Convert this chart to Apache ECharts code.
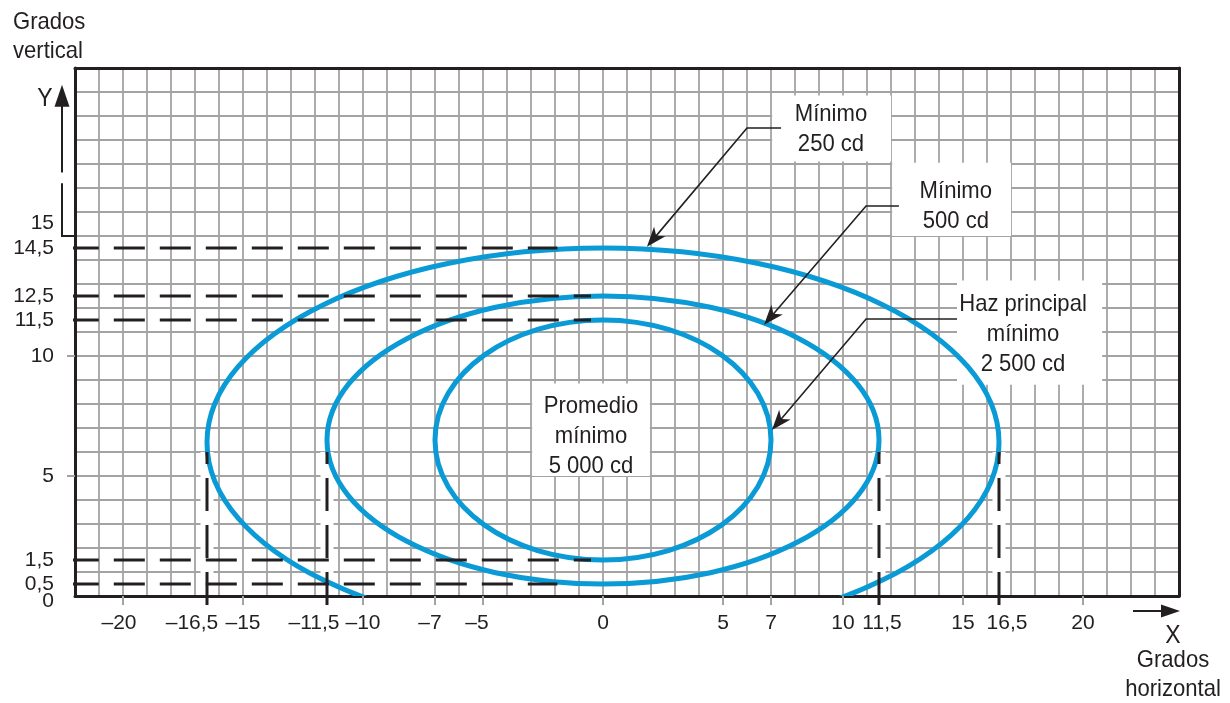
<!DOCTYPE html>
<html><head><meta charset="utf-8">
<script src="https://cdn.jsdelivr.net/npm/echarts@6/dist/echarts.min.js"></script>
<style>html,body{margin:0;padding:0;background:#fff}#main{width:1230px;height:703px}</style>
</head><body><div id="main"></div>
<script>
// ---------- data ----------
const xTickLabels = [-20, -16.5, -15, -11.5, -10, -7, -5, 0, 5, 7, 10, 11.5, 15, 16.5, 20];
const xTickMarks = [-20, -15, -10, -7, -5, 0, 5, 7, 10, 15, 20];
const yTickLabels = [0.5, 1.5, 5, 10, 11.5, 12.5, 14.5];
const yEdgeLabels = [0, 15];
const yTickMarks = [5, 10];

// three isocandela ellipses (degrees)
const ellipseHalfWidth = [16.5, 11.5, 7];
const ellipseTop = [14.5, 12.5, 11.5];
const ellipseBottom = [-1.7, 0.5, 1.5];

// dashed reference lines
const hDashY = [14.5, 12.5, 11.5, 1.5, 0.5];
const hDashEnd = [-1.9, -0.5, -0.5, -0.5, -1.9];
const vDashX = [-16.5, -11.5, 11.5, 16.5];

// annotations
const noteTexts = ['Mínimo\n250 cd', 'Mínimo\n500 cd', 'Haz principal\nmínimo\n2 500 cd', 'Promedio\nmínimo\n5 000 cd'];
const noteX = [9.5, 14.7, 17.5, -0.5];
const noteY = [19.45, 16.25, 10.9, 6.65];
const noteBox = [[7.05, 12.0, 18.1, 20.85], [12.05, 17.0, 15.0, 18.05], [14.75, 20.8, 8.8, 13.15], [-2.95, 1.95, 5.0, 8.85]];
const arrowTip = [[1.83, 14.55], [6.71, 11.3], [7.04, 6.92]];
const arrowElbow = [[6.0, 19.5], [10.96, 16.25], [10.96, 11.54]];
const arrowEnd = [[7.42, 19.5], [12.33, 16.25], [14.75, 11.54]];

// ---------- styles ----------
const INK = '#231f20';
const BLUE = '#0a9ad6';
const GRIDC = '#a3a3a3';
const FONT = "'Liberation Sans', Arial, sans-serif";
const SX = 0.92; // horizontal squeeze to mimic the condensed face
const X_MIN = -22, X_MAX = 24, Y_MIN = 0, Y_MAX = 22;
const H_START = -22.3, V_START = -0.37, V_END = 6.0;
// pixel nudges of individual tick labels, as in the reference
const xLabelShift = { '-20': -4, '-16.5': -15, '-11.5': -13, '-7': -5, '-5': -6, '11.5': 3, '16.5': 8 };

const fmt = v => String(v).replace('-', '\u2013').replace('.', ',');
const xRich = {};
Object.keys(xLabelShift).forEach((k, i) => {
  const s = xLabelShift[k];
  xRich['s' + i] = { padding: s < 0 ? [0, -2 * s, 0, 0] : [0, 0, 0, 2 * s], fontSize: 21, fontFamily: FONT, color: INK };
});
const xFmt = v => {
  const keys = Object.keys(xLabelShift);
  const idx = keys.indexOf(String(v));
  return idx >= 0 ? '{s' + idx + '|' + fmt(v) + '}' : fmt(v);
};

const series = [];

// white boxes + texts for annotations
series.push({
  type: 'custom', silent: true, z: 2,
  data: noteTexts.map((t, i) => [noteX[i], noteY[i]]),
  renderItem(params, api) {
    const i = params.dataIndex;
    const b = noteBox[i];
    const p1 = api.coord([b[0], b[3]]), p2 = api.coord([b[1], b[2]]);
    const c = api.coord([api.value(0), api.value(1)]);
    return { type: 'group', children: [
      { type: 'rect', shape: { x: p1[0], y: p1[1], width: p2[0] - p1[0], height: p2[1] - p1[1] }, style: { fill: '#fff' } },
      { type: 'text', z2: 10, x: c[0], y: c[1], scaleX: SX, scaleY: 1, style: { text: noteTexts[i], x: 0, y: 0, align: 'center', verticalAlign: 'middle', fill: INK, fontSize: 24, fontFamily: FONT, lineHeight: 30 } }
    ]};
  }
});

// white halos behind vertical dashed lines
vDashX.forEach(x => series.push({
  type: 'line', silent: true, z: 2, showSymbol: false, clip: false,
  data: [[x, 0.08], [x, V_END]],
  lineStyle: { color: '#fff', width: 13 }
}));

// ellipses
series.push({
  type: 'custom', silent: true, z: 3, clip: true,
  data: ellipseHalfWidth.map((a, i) => [0, (ellipseTop[i] + ellipseBottom[i]) / 2, a, (ellipseTop[i] - ellipseBottom[i]) / 2]),
  renderItem(params, api) {
    const c = api.coord([api.value(0), api.value(1)]);
    const s = api.size([api.value(2), api.value(3)]);
    return { type: 'ellipse', shape: { cx: c[0], cy: c[1], rx: s[0], ry: s[1] }, style: { fill: 'none', stroke: BLUE, lineWidth: 5 } };
  }
});

// horizontal dashed lines
hDashY.forEach((y, i) => series.push({
  type: 'line', silent: true, z: 4, showSymbol: false, clip: false,
  data: [[H_START, y], [hDashEnd[i], y]],
  lineStyle: { color: INK, width: 3, type: [31, 15] }
}));
// vertical dashed lines
vDashX.forEach(x => series.push({
  type: 'line', silent: true, z: 4, showSymbol: false, clip: false,
  data: [[x, V_START], [x, V_END]],
  lineStyle: { color: INK, width: 3, type: [33, 14] }
}));

// arrows
series.push({
  type: 'custom', silent: true, z: 5,
  data: arrowTip.map((t, i) => [t[0], t[1]]),
  renderItem(params, api) {
    const i = params.dataIndex;
    const T = api.coord(arrowTip[i]), E = api.coord(arrowElbow[i]), S = api.coord(arrowEnd[i]);
    let dx = T[0] - E[0], dy = T[1] - E[1];
    const len = Math.hypot(dx, dy); dx /= len; dy /= len;
    const L = 20, W = 7.5;
    const bx = T[0] - dx * L, by = T[1] - dy * L;
    const nx = -dy, ny = dx;
    return { type: 'group', children: [
      { type: 'polyline', shape: { points: [S, E, [T[0] - dx * 12, T[1] - dy * 12]] }, style: { fill: 'none', stroke: INK, lineWidth: 1.6 } },
      { type: 'polygon', shape: { points: [T, [bx + nx * W, by + ny * W], [T[0] - dx * L * 0.72, T[1] - dy * L * 0.72], [bx - nx * W, by - ny * W]] }, style: { fill: INK } }
    ]};
  }
});

const borderAxis = (pos) => ({
  type: 'value', position: pos, min: (pos === 'top' || pos === 'bottom') ? X_MIN : Y_MIN, max: (pos === 'top' || pos === 'bottom') ? X_MAX : Y_MAX, z: 1,
  axisLine: { show: true, onZero: false, lineStyle: { color: INK, width: 3 } },
  axisTick: { show: false }, axisLabel: { show: false }, splitLine: { show: false }
});
const gridAxis = (isX) => ({
  type: 'value', position: isX ? 'top' : 'right', min: isX ? X_MIN : Y_MIN, max: isX ? X_MAX : Y_MAX, interval: 1, z: 0,
  axisLine: { show: false, onZero: false }, axisTick: { show: false }, axisLabel: { show: false },
  splitLine: { show: true, showMinLine: false, showMaxLine: false, lineStyle: { color: GRIDC, width: 1.8 } }
});

const option = {
  animation: false,
  backgroundColor: '#fff',
  grid: { left: 75, top: 68, width: 1104, height: 528, outerBoundsMode: 'none', containLabel: false },
  xAxis: [{
    type: 'value', position: 'bottom', min: X_MIN, max: X_MAX, interval: 1, z: 1,
    axisLine: { show: true, onZero: false, lineStyle: { color: INK, width: 3 } },
    axisTick: { show: true, customValues: xTickMarks, length: 9, lineStyle: { color: GRIDC, width: 2 } },
    axisLabel: { show: true, customValues: xTickLabels, formatter: xFmt, rich: xRich, margin: 17, color: INK, fontSize: 21, fontFamily: FONT, showMinLabel: true, showMaxLabel: true, hideOverlap: false },
    splitLine: { show: false }
  }, borderAxis('top'), gridAxis(true)],
  yAxis: [{
    type: 'value', position: 'left', min: Y_MIN, max: Y_MAX, interval: 1, z: 1,
    axisLine: { show: true, onZero: false, lineStyle: { color: INK, width: 3 } },
    axisTick: { show: true, customValues: yTickMarks, length: 8, lineStyle: { color: GRIDC, width: 2 } },
    axisLabel: { show: true, customValues: yTickLabels, formatter: fmt, margin: 21, color: INK, fontSize: 21, fontFamily: FONT, showMinLabel: true, showMaxLabel: true, hideOverlap: false },
    splitLine: { show: false }
  }, borderAxis('right'), gridAxis(false), {
    // "0" and "15" labels, nudged as in the reference
    type: 'value', position: 'left', min: Y_MIN, max: Y_MAX, z: 1,
    axisLine: { show: false, onZero: false }, axisTick: { show: false }, splitLine: { show: false },
    axisLabel: {
      show: true, customValues: yEdgeLabels, margin: 21, color: INK, fontSize: 21, fontFamily: FONT, showMinLabel: true, showMaxLabel: true, hideOverlap: false,
      formatter: v => v === 15 ? '{up|15}' : '{dn|' + fmt(v) + '}',
      rich: {
        up: { padding: [0, 0, 26, 0], fontSize: 21, fontFamily: FONT, color: INK },
        dn: { padding: [10, 0, 0, 0], fontSize: 21, fontFamily: FONT, color: INK }
      }
    }
  }],
  series
};

const chart = echarts.init(document.getElementById('main'), null, { renderer: 'canvas' });
chart.setOption(option);

// decorations: axis arrows and axis titles, placed from the grid's own coordinates
const P = (x, y) => chart.convertToPixel({ gridIndex: 0 }, [x, y]);
const left = P(X_MIN, 0)[0], bottom = P(0, Y_MIN)[1], right = P(X_MAX, 0)[0];
const ax = left - 13;
const yTop = P(0, 21.3)[1], y15 = P(0, 15)[1], gapA = P(0, 17.65)[1], gapB = P(0, 17.2)[1];
const arrowY = bottom + 15;
const txt = (text, x, y, size, align, va) => ({ type: 'text', x, y, scaleX: SX, style: { text, x: 0, y: 0, fill: INK, fontSize: size, fontFamily: FONT, align: align || 'center', verticalAlign: va || 'middle', lineHeight: 29 } });

chart.setOption({ graphic: [
  { type: 'polyline', shape: { points: [[ax, yTop + 18], [ax, gapA]] }, style: { stroke: INK, lineWidth: 2, fill: 'none' } },
  { type: 'polyline', shape: { points: [[ax, gapB], [ax, y15], [left, y15]] }, style: { stroke: INK, lineWidth: 2, fill: 'none' } },
  { type: 'polygon', shape: { points: [[ax, yTop], [ax - 7.5, yTop + 22], [ax + 7.5, yTop + 22]] }, style: { fill: INK } },
  txt('Y', ax - 17, yTop + 14, 25),
  txt('Grados\nvertical', 13, 8, 24, 'left', 'top'),
  { type: 'line', shape: { x1: right - 46, y1: arrowY, x2: right - 14, y2: arrowY }, style: { stroke: INK, lineWidth: 2 } },
  { type: 'polygon', shape: { points: [[right + 1, arrowY], [right - 18, arrowY - 6.5], [right - 18, arrowY + 6.5]] }, style: { fill: INK } },
  txt('X', right - 6, arrowY + 25, 25),
  txt('Grados\nhorizontal', right - 6, arrowY + 64, 24)
]});
</script>
</body></html>
